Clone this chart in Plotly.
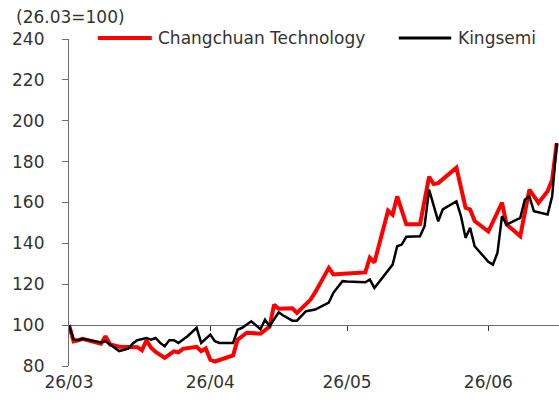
import plotly.graph_objects as go

# ---- data ----
red_name = "Changchuan Technology"
red_dates = ["2026-03-01", "2026-03-02", "2026-03-03", "2026-03-04", "2026-03-06", "2026-03-08",
             "2026-03-09", "2026-03-10", "2026-03-12", "2026-03-14", "2026-03-16", "2026-03-17",
             "2026-03-18", "2026-03-19", "2026-03-20", "2026-03-22", "2026-03-24", "2026-03-25",
             "2026-03-26", "2026-03-29", "2026-03-30", "2026-03-31", "2026-04-01", "2026-04-02",
             "2026-04-06", "2026-04-07", "2026-04-09", "2026-04-12", "2026-04-14", "2026-04-15",
             "2026-04-16", "2026-04-19", "2026-04-20", "2026-04-23", "2026-04-24", "2026-04-27",
             "2026-04-28", "2026-05-01", "2026-05-05", "2026-05-06", "2026-05-07", "2026-05-10",
             "2026-05-11", "2026-05-12", "2026-05-14", "2026-05-17", "2026-05-19", "2026-05-20",
             "2026-05-21", "2026-05-25", "2026-05-27", "2026-05-28", "2026-05-29", "2026-06-01",
             "2026-06-02", "2026-06-04", "2026-06-05", "2026-06-08", "2026-06-10", "2026-06-12",
             "2026-06-14", "2026-06-15", "2026-06-16"]
red_values = [100.0, 92.1, 92.6, 93.3, 92.1, 90.9,
              94.6, 90.5, 89.4, 89.2, 89.2, 87.7,
              92.5, 88.9, 86.9, 84.0, 87.2, 86.7,
              88.4, 89.4, 87.2, 88.6, 83.1, 82.2,
              85.2, 92.9, 96.3, 95.8, 99.3, 110.0,
              108.0, 108.2, 106.0, 112.5, 116.0, 128.0,
              124.8, 125.3, 125.8, 133.0, 130.6, 156.0,
              154.0, 163.0, 149.3, 149.3, 172.6, 169.0,
              169.5, 177.0, 157.4, 156.6, 150.9, 145.8,
              150.9, 159.9, 149.3, 143.5, 166.3, 159.8,
              165.5, 171.2, 189.0]

black_name = "Kingsemi"
black_dates = ["2026-03-01", "2026-03-02", "2026-03-03", "2026-03-04", "2026-03-08", "2026-03-09",
               "2026-03-10", "2026-03-11", "2026-03-12", "2026-03-14", "2026-03-15", "2026-03-16",
               "2026-03-18", "2026-03-19", "2026-03-20", "2026-03-21", "2026-03-22", "2026-03-23",
               "2026-03-24", "2026-03-25", "2026-03-27", "2026-03-29", "2026-03-30", "2026-04-01",
               "2026-04-02", "2026-04-03", "2026-04-06", "2026-04-07", "2026-04-08", "2026-04-10",
               "2026-04-12", "2026-04-13", "2026-04-14", "2026-04-16", "2026-04-17", "2026-04-19",
               "2026-04-20", "2026-04-22", "2026-04-24", "2026-04-27", "2026-04-28", "2026-04-30",
               "2026-05-01", "2026-05-05", "2026-05-06", "2026-05-07", "2026-05-11", "2026-05-12",
               "2026-05-13", "2026-05-14", "2026-05-17", "2026-05-18", "2026-05-19", "2026-05-21",
               "2026-05-22", "2026-05-25", "2026-05-26", "2026-05-27", "2026-05-28", "2026-05-29",
               "2026-06-01", "2026-06-02", "2026-06-03", "2026-06-04", "2026-06-05", "2026-06-08",
               "2026-06-09", "2026-06-10", "2026-06-11", "2026-06-14", "2026-06-15", "2026-06-16"]
black_values = [100.0, 93.0, 92.6, 93.3, 91.5, 92.1,
                90.5, 88.9, 87.3, 88.5, 91.0, 92.6,
                93.7, 92.9, 93.7, 91.3, 89.7, 92.6,
                92.6, 91.3, 94.6, 98.7, 91.3, 95.4,
                92.1, 91.3, 91.3, 97.8, 98.7, 101.9,
                98.0, 102.7, 99.5, 106.3, 104.7, 102.2,
                102.2, 106.8, 107.6, 111.0, 115.8, 121.5,
                121.3, 121.0, 122.3, 118.2, 129.6, 138.6,
                139.4, 143.2, 143.5, 148.4, 166.3, 150.8,
                156.6, 160.6, 153.3, 142.7, 147.6, 138.6,
                131.0, 129.6, 135.4, 153.3, 149.2, 152.5,
                161.4, 163.0, 155.7, 154.1, 163.0, 189.0]

month_ticks = ["2026-03-01", "2026-04-01", "2026-05-01", "2026-06-01"]
month_labels = ["26/03", "26/04", "26/05", "26/06"]
y_ticks = [80, 100, 120, 140, 160, 180, 200, 220, 240]
base_note = "(26.03=100)"

FONT = "DejaVu Sans"
TXT = "#333333"
AXC = "#6e6e6e"

fig = go.Figure()
fig.add_trace(go.Scatter(x=red_dates, y=red_values, mode="lines", name=red_name,
                         line=dict(color="#ff0000", width=4), xaxis="x", yaxis="y"))
fig.add_trace(go.Scatter(x=black_dates, y=black_values, mode="lines", name=black_name,
                         line=dict(color="#000000", width=2.5), xaxis="x2", yaxis="y"))

x_range = ["2026-03-01", "2026-06-16 12:00"]

fig.update_layout(
    width=559, height=403,
    margin=dict(l=69, r=0, t=39, b=37),
    paper_bgcolor="white", plot_bgcolor="white",
    showlegend=False,
    font=dict(family=FONT, size=17, color=TXT),
    xaxis=dict(type="date", range=x_range, tickvals=month_ticks, ticktext=month_labels,
               showgrid=False, zeroline=False, showline=False, ticks="",
               tickfont=dict(size=17, color=TXT), ticklabelstandoff=4),
    xaxis2=dict(type="date", range=x_range, overlaying="x", matches="x", anchor="free",
                position=(100 - 80) / (240 - 80), tickvals=month_ticks,
                showticklabels=False, showgrid=False, zeroline=False,
                showline=True, linecolor=AXC, linewidth=1.2,
                ticks="outside", ticklen=5, tickcolor="#333333", tickwidth=1,
                layer="below traces"),
    yaxis=dict(range=[80, 240], tickvals=y_ticks, showgrid=False, zeroline=False,
               showline=True, linecolor=AXC, linewidth=1.2, ticks="outside", ticklen=6,
               tickcolor=AXC, tickfont=dict(size=17, color=TXT), ticklabelstandoff=14),
)

# manual legend
leg_y = 1.003
fig.add_shape(type="line", xref="paper", yref="paper", x0=0.059, x1=0.169, y0=leg_y, y1=leg_y,
              line=dict(color="#ff0000", width=4))
fig.add_annotation(xref="paper", yref="paper", x=0.177, y=leg_y, text=red_name, showarrow=False,
                   xanchor="left", yanchor="middle", font=dict(size=17, color=TXT))
fig.add_shape(type="line", xref="paper", yref="paper", x0=0.673, x1=0.780, y0=leg_y, y1=leg_y,
              line=dict(color="#000000", width=3))
fig.add_annotation(xref="paper", yref="paper", x=0.790, y=leg_y, text=black_name, showarrow=False,
                   xanchor="left", yanchor="middle", font=dict(size=17, color=TXT))
fig.add_annotation(xref="paper", yref="paper", x=-0.112, y=1.067, text=base_note, showarrow=False,
                   xanchor="left", yanchor="middle", font=dict(size=17, color=TXT))

fig.write_html("out.html",
               config={"displayModeBar": False},
               post_script="document.body.style.margin='0';document.body.style.overflow='hidden';")
